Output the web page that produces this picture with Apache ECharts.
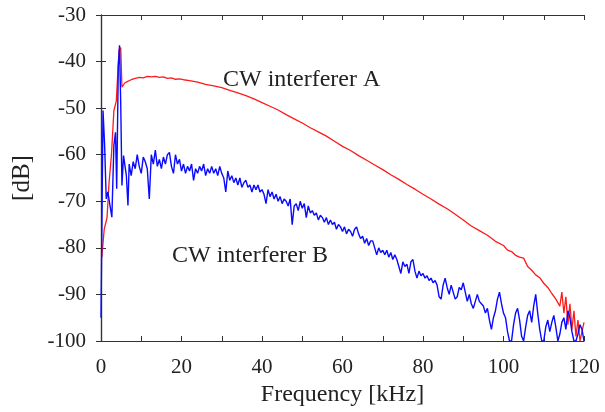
<!DOCTYPE html>
<html>
<head>
<meta charset="utf-8">
<script src="https://cdn.jsdelivr.net/npm/echarts@6/dist/echarts.min.js"></script>
<style>
  html, body { margin: 0; padding: 0; background: #fff; }
  #chart { width: 605px; height: 412px; }
</style>
</head>
<body>
<div id="chart"></div>
<script>
// spectrum of the two CW interferers

// interferer A (red), kHz / dB
var freqA = [0.2, 0.8, 1.5, 2.0, 2.6, 3.2, 3.8, 4.2, 4.5, 4.9, 5.2, 5.9, 6.5, 7.5, 8.5, 9.5,
    10.5, 11.5, 12.5, 13.5, 14.5, 15.5, 16.5, 17.5, 18.5, 19.5, 20.5, 22, 24, 26, 28, 30,
    32, 34, 36, 38, 40, 42, 44, 46, 48, 50, 52, 54, 56, 58, 60, 62, 64, 66, 68, 70,
    72, 74, 76, 78, 80, 82, 84, 86, 88, 90, 92, 94, 96, 98, 100, 101, 102, 103, 104, 105,
    106, 107, 108, 109, 110, 111, 112, 113, 114, 114.5, 115, 115.5, 116, 116.5, 117, 117.5,
    118, 118.5, 119, 119.5, 120];
var dbA = [-82, -76, -73.5, -66, -60, -50.5, -48.5, -42, -37.5, -37, -45.5, -44.6, -44.3, -43.9, -43.6, -43.4,
    -43.5, -43.2, -43.3, -43.2, -43.4, -43.3, -43.6, -43.5, -43.8, -43.7, -43.9, -44.1, -44.4, -44.9, -45.2, -45.6,
    -46.2, -46.7, -47.3, -48.0, -48.8, -49.6, -50.4, -51.4, -52.3, -53.2, -54.2, -55.1, -56.0, -57.1, -58.2, -59.1,
    -60.2, -61.2, -62.2, -63.2, -64.3, -65.3, -66.4, -67.4, -68.5, -69.5, -70.6, -71.6, -72.8, -74.0, -75.3, -76.3,
    -77.3, -78.6, -79.5, -80.5, -80.8, -81.6, -82.0, -82.2, -84.0, -84.8, -85.8, -86.4, -87.6, -88.5, -89.8, -91.0,
    -92.5, -89.5, -94.0, -90.5, -96.5, -92.0, -97.5, -93.5, -99, -95.5, -100, -98, -96];

// interferer B (blue): fine points near the carrier, then every 0.5 kHz from 7 kHz
var freqB = [0, 0.5, 0.9, 1.3, 1.7, 2.1, 2.7, 3.2, 3.6, 3.9, 4.3, 4.6, 4.9, 5.2, 5.6, 6.3, 6.7,
    7.0, 7.5, 8.0, 8.5, 9.0, 9.5, 10.0, 10.5, 11.0, 11.5, 12.0, 12.5, 13.0, 13.5, 14.0, 14.5,
    15.0, 15.5, 16.0, 16.5, 17.0, 17.5, 18.0, 18.5, 19.0, 19.5, 20.0, 20.5, 21.0, 21.5, 22.0, 22.5,
    23.0, 23.5, 24.0, 24.5, 25.0, 25.5, 26.0, 26.5, 27.0, 27.5, 28.0, 28.5, 29.0, 29.5, 30.0, 30.5,
    31.0, 31.5, 32.0, 32.5, 33.0, 33.5, 34.0, 34.5, 35.0, 35.5, 36.0, 36.5, 37.0, 37.5, 38.0, 38.5,
    39.0, 39.5, 40.0, 40.5, 41.0, 41.5, 42.0, 42.5, 43.0, 43.5, 44.0, 44.5, 45.0, 45.5, 46.0, 46.5,
    47.0, 47.5, 48.0, 48.5, 49.0, 49.5, 50.0, 50.5, 51.0, 51.5, 52.0, 52.5, 53.0, 53.5, 54.0, 54.5,
    55.0, 55.5, 56.0, 56.5, 57.0, 57.5, 58.0, 58.5, 59.0, 59.5, 60.0, 60.5, 61.0, 61.5, 62.0, 62.5,
    63.0, 63.5, 64.0, 64.5, 65.0, 65.5, 66.0, 66.5, 67.0, 67.5, 68.0, 68.5, 69.0, 69.5, 70.0, 70.5,
    71.0, 71.5, 72.0, 72.5, 73.0, 73.5, 74.0, 74.5, 75.0, 75.5, 76.0, 76.5, 77.0, 77.5, 78.0, 78.5,
    79.0, 79.5, 80.0, 80.5, 81.0, 81.5, 82.0, 82.5, 83.0, 83.5, 84.0, 84.5, 85.0, 85.5, 86.0, 86.5,
    87.0, 87.5, 88.0, 88.5, 89.0, 89.5, 90.0, 90.5, 91.0, 91.5, 92.0, 92.5, 93.0, 93.5, 94.0, 94.5,
    95.0, 95.5, 96.0, 96.5, 97.0, 97.5, 98.0, 98.5, 99.0, 99.5, 100.0, 100.5, 101.0, 101.5, 102.0, 102.5,
    103.0, 103.5, 104.0, 104.5, 105.0, 105.5, 106.0, 106.5, 107.0, 107.5, 108.0, 108.5, 109.0, 109.5, 110.0, 110.5,
    111.0, 111.5, 112.0, 112.5, 113.0, 113.5, 114.0, 114.5, 115.0, 115.5, 116.0, 116.5, 117.0, 117.5, 118.0, 118.5,
    119.0, 119.5, 120.0];
var dbB = [-95, -50.5, -58, -69.5, -68, -70.2, -73.4, -58, -55.2, -67.3, -41, -36.5, -49, -66.6, -60.2, -64.5, -70.9,
    -62.0, -64.5, -61.5, -63.0, -60.0, -62.5, -64.0, -60.5, -61.5, -63.0, -69.5, -60.0, -62.0, -59.0, -62.5, -61.0,
    -63.0, -60.5, -62.0, -60.0, -59.5, -62.5, -64.0, -60.0, -62.0, -61.0, -63.5, -62.0, -64.0, -62.5, -63.5, -62.0,
    -65.5, -63.0, -64.0, -62.5, -63.5, -62.0, -64.5, -63.0, -64.0, -62.5, -64.0, -63.0, -64.5, -62.5, -64.0, -65.0,
    -68.0, -63.5, -65.5, -64.5, -66.0, -65.0, -66.5, -65.0, -67.0, -66.0, -65.5, -67.0, -66.5, -68.0, -66.5, -67.5,
    -66.5, -68.0, -67.5, -68.5, -70.5, -67.5, -69.0, -68.0, -69.5, -68.5, -70.0, -69.0, -70.5, -69.5, -70.0, -71.0,
    -69.5, -75.0, -71.0, -70.5, -72.0, -70.0, -71.5, -70.5, -73.5, -71.0, -72.5, -72.0, -73.0, -72.5, -74.0, -73.0,
    -73.5, -74.5, -73.5, -75.0, -74.0, -75.0, -74.5, -76.0, -75.0, -75.5, -76.5, -75.5, -77.0, -76.0, -76.5, -77.5,
    -76.0, -75.5, -77.0, -78.0, -77.5, -79.0, -78.0, -79.5, -78.5, -78.5, -80.0, -81.5, -80.0, -81.0, -80.5, -81.5,
    -80.5, -82.0, -81.0, -82.5, -81.5, -82.5, -84.0, -85.5, -83.0, -84.0, -83.5, -85.5, -83.0, -82.5, -85.0, -86.5,
    -85.0, -86.0, -85.5, -86.5, -86.0, -87.0, -86.5, -87.5, -87.0, -88.0, -90.5, -91.0, -88.0, -86.5, -88.5, -90.0,
    -88.0, -89.5, -91.0, -90.5, -88.5, -89.0, -87.5, -89.5, -91.5, -90.0, -92.0, -93.0, -91.5, -90.0, -91.5, -92.0,
    -92.5, -94.0, -93.0, -95.5, -97.5, -95.0, -93.5, -91.0, -89.5, -92.0, -94.0, -95.0, -98.0, -100.0, -100.0, -96.5,
    -94.0, -93.0, -95.5, -99.0, -100.0, -97.0, -94.5, -93.5, -96.0, -92.5, -90.0, -94.0, -97.5, -100.0, -100.0, -97.0,
    -95.5, -98.0, -96.0, -94.5, -97.0, -100.0, -98.5, -96.0, -95.0, -97.5, -93.5, -95.0, -98.0, -100.0, -100.0, -98.5,
    -96.5, -97.5, -100.0];

var xTicks = [0, 20, 40, 60, 80, 100, 120];
var yTicks = [-30, -40, -50, -60, -70, -80, -90, -100];

var textColor = '#222';
var lineColor = '#333';
var serif = '"Liberation Serif", "DejaVu Serif", serif';

function pairs(xs, ys) {
    return xs.map(function(x, i) { return [x, ys[i]]; });
}

function initChart() {
    var chartDom = document.getElementById('chart');
    var myChart = echarts.init(chartDom);

    var frameAxis = {
        axisLine: { show: true, lineStyle: { color: lineColor, width: 1.2 } },
        axisTick: { show: true, inside: true, length: 5, lineStyle: { color: lineColor } },
        splitLine: { show: false }
    };

    var option = {
        animation: false,
        backgroundColor: '#fff',
        grid: { left: 101, right: 21, top: 15, bottom: 69 },
        xAxis: [
            Object.assign({
                type: 'value',
                position: 'bottom',
                min: 0,
                max: 120,
                interval: 10,
                name: 'Frequency [kHz]',
                nameLocation: 'middle',
                nameGap: 42,
                nameTextStyle: { color: textColor, fontFamily: serif, fontSize: 24 },
                axisLabel: {
                    color: textColor,
                    fontFamily: serif,
                    fontSize: 21,
                    margin: 16,
                    formatter: function(v) { return xTicks.indexOf(v) >= 0 ? String(v) : ''; }
                }
            }, frameAxis),
            Object.assign({
                type: 'value',
                position: 'top',
                min: 0,
                max: 120,
                interval: 10,
                axisLabel: { show: false }
            }, frameAxis)
        ],
        yAxis: [
            Object.assign({
                type: 'value',
                position: 'left',
                min: -100,
                max: -30,
                interval: 10,
                name: '[dB]',
                nameLocation: 'middle',
                nameGap: 66,
                nameTextStyle: { color: textColor, fontFamily: serif, fontSize: 25 },
                axisLabel: {
                    color: textColor,
                    fontFamily: serif,
                    fontSize: 21,
                    margin: 15,
                    formatter: function(v) { return yTicks.indexOf(v) >= 0 ? String(v) : ''; }
                }
            }, frameAxis),
            Object.assign({
                type: 'value',
                position: 'right',
                min: -100,
                max: -30,
                interval: 10,
                axisLabel: { show: false }
            }, frameAxis)
        ],
        series: [
            {
                name: 'CW interferer A',
                type: 'line',
                data: pairs(freqA, dbA),
                showSymbol: false,
                clip: true,
                lineStyle: { color: '#ff1a1a', width: 1.3 },
                z: 2
            },
            {
                name: 'CW interferer B',
                type: 'line',
                data: pairs(freqB, dbB),
                showSymbol: false,
                clip: true,
                lineStyle: { color: '#0a0aff', width: 1.4 },
                z: 3
            }
        ],
        graphic: [
            {
                type: 'text',
                x: 223,
                y: 80,
                style: {
                    text: 'CW interferer A',
                    fill: textColor,
                    font: '24px ' + serif,
                    verticalAlign: 'middle'
                }
            },
            {
                type: 'text',
                x: 172,
                y: 256,
                style: {
                    text: 'CW interferer B',
                    fill: textColor,
                    font: '24px ' + serif,
                    verticalAlign: 'middle'
                }
            }
        ]
    };

    myChart.setOption(option);
}

document.addEventListener('DOMContentLoaded', initChart);
</script>
</body>
</html>
